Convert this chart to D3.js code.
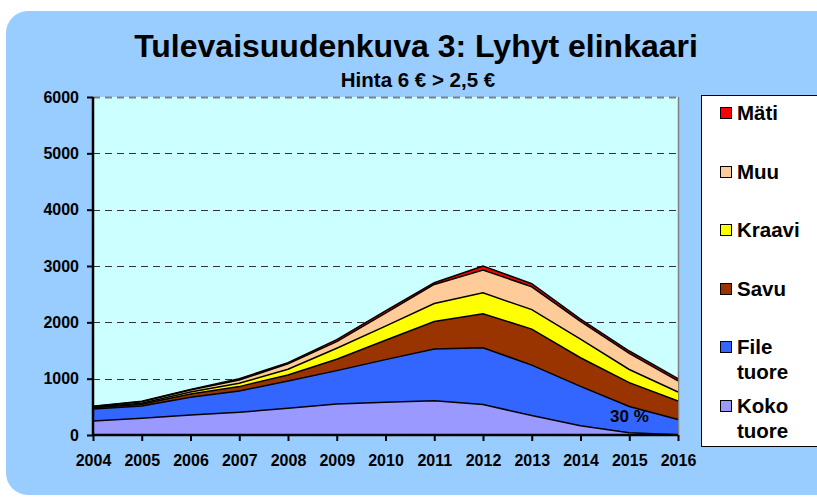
<!DOCTYPE html>
<html>
<head>
<meta charset="utf-8">
<script src="https://cdn.jsdelivr.net/npm/d3@7"></script>
<style>
  body { margin: 0; background: #ffffff; }
  svg text { font-family: "Liberation Sans", Arial, sans-serif; font-weight: bold; fill: #000; }
</style>
</head>
<body>
<script>
(function(){

    //chart data
    var years = [2004, 2005, 2006, 2007, 2008, 2009, 2010, 2011, 2012, 2013, 2014, 2015, 2016];
    var kokoTuore = [250, 297, 355, 403, 474, 551, 582, 608, 542, 345, 166, 41, 5];
    var fileTuore = [212, 218, 315, 379, 486, 592, 756, 919, 1008, 895, 698, 465, 270];
    var savu      = [20, 30, 58, 77, 106, 202, 345, 489, 603, 639, 507, 424, 328];
    var kraavi    = [10, 20, 36, 59, 101, 195, 250, 317, 370, 346, 329, 233, 161];
    var muu       = [13, 25, 36, 59, 95, 118, 230, 339, 406, 406, 316, 287, 197];
    var mati      = [5, 10, 10, 23, 20, 35, 40, 30, 71, 54, 42, 41, 40];
    var yTicks = [0, 1000, 2000, 3000, 4000, 5000, 6000];

    //series names, bottom to top, with colours
    var seriesKeys = ["Koko tuore", "File tuore", "Savu", "Kraavi", "Muu", "Mäti"];
    var seriesColors = ["#9999ff", "#3366ff", "#993300", "#ffff00", "#ffcc99", "#ff0000"];
    var seriesValues = [kokoTuore, fileTuore, savu, kraavi, muu, mati];

    var titleText = "Tulevaisuudenkuva 3: Lyhyt elinkaari";
    var subtitleText = "Hinta 6 € > 2,5 €";
    var noteText = "30 %";

    window.onload = drawChart();

    function drawChart(){

        var width = 817,
            height = 497;

        var svg = d3.select("body")
            .append("svg")
            .attr("width", width)
            .attr("height", height);

        //light blue rounded panel behind everything
        svg.append("rect")
            .attr("x", 6)
            .attr("y", 11)
            .attr("width", 840)
            .attr("height", 484)
            .attr("rx", 22)
            .attr("fill", "#99ccff");

        //titles
        svg.append("text")
            .attr("x", 416)
            .attr("y", 57)
            .attr("text-anchor", "middle")
            .style("font-size", "32px")
            .text(titleText);

        svg.append("text")
            .attr("x", 418)
            .attr("y", 87)
            .attr("text-anchor", "middle")
            .style("font-size", "20.5px")
            .text(subtitleText);

        //plot frame
        var plot = {left: 93, right: 678, top: 97, bottom: 435};

        var x = d3.scaleLinear()
            .domain([years[0], years[years.length - 1]])
            .range([plot.left, plot.right]);

        var y = d3.scaleLinear()
            .domain([0, 6000])
            .range([plot.bottom, plot.top]);

        svg.append("rect")
            .attr("x", plot.left)
            .attr("y", plot.top)
            .attr("width", plot.right - plot.left)
            .attr("height", plot.bottom - plot.top)
            .attr("fill", "#ccffff");

        //right edge of the plot area
        svg.append("line")
            .attr("x1", plot.right + 0.5).attr("x2", plot.right + 0.5)
            .attr("y1", plot.top).attr("y2", plot.bottom)
            .attr("stroke", "#808080")
            .attr("stroke-width", 1.5);

        //dashed gridlines
        svg.selectAll(".grid")
            .data(yTicks.filter(function(d){ return d > 0; }))
            .enter()
            .append("line")
            .attr("class", "grid")
            .attr("x1", plot.left)
            .attr("x2", plot.right)
            .attr("y1", function(d){ return Math.round(y(d)) + 0.5; })
            .attr("y2", function(d){ return Math.round(y(d)) + 0.5; })
            .attr("stroke", function(d){ return d === 6000 ? "#808080" : "#333"; })
            .attr("stroke-width", function(d){ return d === 6000 ? 2 : 1; })
            .attr("stroke-dasharray", "7,5");

        //build table for the stack
        var table = years.map(function(yr, i){
            var row = {year: yr};
            seriesKeys.forEach(function(k, j){ row[k] = seriesValues[j][i]; });
            return row;
        });

        var stack = d3.stack().keys(seriesKeys);
        var layers = stack(table);

        var area = d3.area()
            .x(function(d){ return x(d.data.year); })
            .y0(function(d){ return y(d[0]); })
            .y1(function(d){ return y(d[1]); });

        var topLine = d3.line()
            .x(function(d){ return x(d.data.year); })
            .y(function(d){ return y(d[1]); });

        svg.selectAll(".layer")
            .data(layers)
            .enter()
            .append("path")
            .attr("class", "layer")
            .attr("d", area)
            .attr("fill", function(d, i){ return seriesColors[i]; });

        svg.selectAll(".layerLine")
            .data(layers)
            .enter()
            .append("path")
            .attr("class", "layerLine")
            .attr("d", topLine)
            .attr("fill", "none")
            .attr("stroke", "#000")
            .attr("stroke-width", 1.5);

        //axes
        var yAxis = d3.axisLeft(y)
            .tickValues(yTicks)
            .tickFormat(d3.format("d"))
            .tickSize(6)
            .tickPadding(8);

        var xAxis = d3.axisBottom(x)
            .tickValues(years)
            .tickFormat(d3.format("d"))
            .tickSize(6)
            .tickPadding(14);

        var gy = svg.append("g")
            .attr("transform", "translate(" + plot.left + ",0)")
            .call(yAxis);

        var gx = svg.append("g")
            .attr("transform", "translate(0," + plot.bottom + ")")
            .call(xAxis);

        [gx, gy].forEach(function(g){
            g.selectAll("path").attr("stroke", "#000").attr("stroke-width", 2.5);
            g.selectAll("line").attr("stroke", "#000").attr("stroke-width", 2);
            g.selectAll("text")
                .style("font-family", "'Liberation Sans', Arial, sans-serif")
                .style("font-weight", "bold")
                .style("font-size", "16px")
                .attr("fill", "#000");
        });
        gx.select(".domain").attr("d", "M" + plot.left + ",0H" + plot.right);
        gy.select(".domain").attr("d", "M0," + plot.bottom + "V" + plot.top);

        //percentage note inside the File area
        svg.append("text")
            .attr("x", 610)
            .attr("y", 422)
            .style("font-size", "17px")
            .text(noteText);

        //legend
        var legend = svg.append("g").attr("class", "legend");

        legend.append("rect")
            .attr("x", 701.5)
            .attr("y", 95.5)
            .attr("width", 130)
            .attr("height", 351)
            .attr("fill", "#fff")
            .attr("stroke", "#000")
            .attr("stroke-width", 1);

        var legendItems = seriesKeys.slice().reverse();
        var legendColors = seriesColors.slice().reverse();

        legendItems.forEach(function(name, i){
            var cy = 113 + i * 58.6;
            legend.append("rect")
                .attr("x", 720.5)
                .attr("y", Math.round(cy - 6) + 0.5)
                .attr("width", 11)
                .attr("height", 11)
                .attr("fill", legendColors[i])
                .attr("stroke", "#000")
                .attr("stroke-width", 1);

            var words = name.split(" ");
            var t = legend.append("text")
                .attr("x", 737)
                .attr("y", cy + 7)
                .style("font-size", "20.5px");
            words.forEach(function(w, k){
                t.append("tspan")
                    .attr("x", 737)
                    .attr("dy", k === 0 ? 0 : 25)
                    .text(w);
            });
        });
    };

})();
</script>
</body>
</html>
